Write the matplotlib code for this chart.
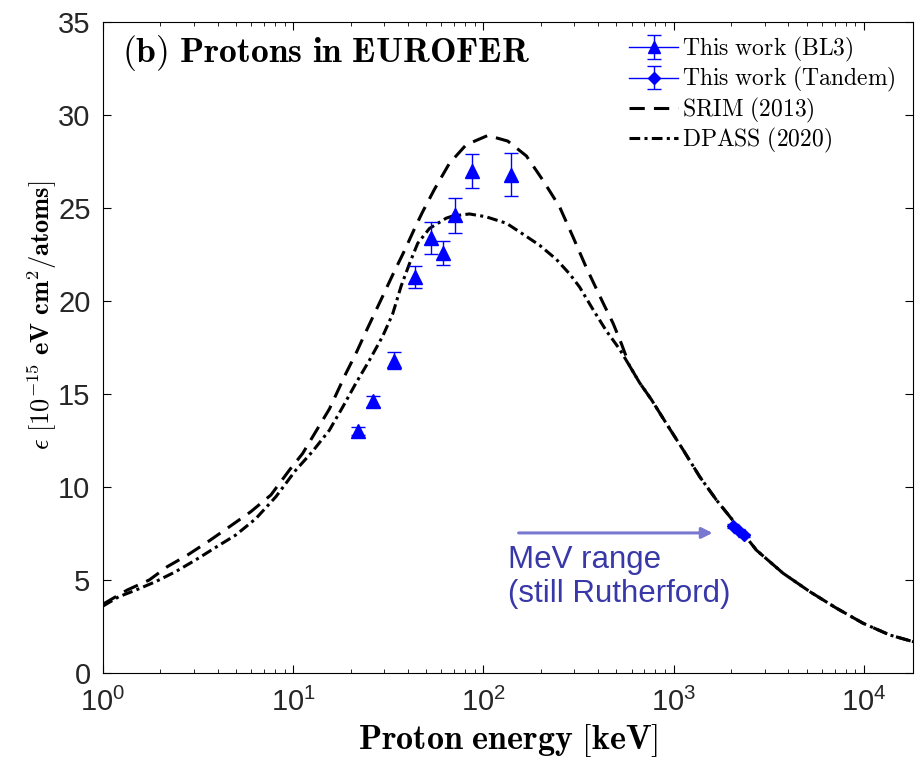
import numpy as np
import matplotlib
matplotlib.use("Agg")
import matplotlib.pyplot as plt
from matplotlib.ticker import LogLocator, NullFormatter, MultipleLocator

plt.rcParams['font.family'] = 'Liberation Sans'

# Measured points (BL3)
bl3_energy = [22.0, 26.4, 34.0, 43.9, 53.2, 61.6, 71.2, 87.5, 139.0]
bl3_eps = [13.0, 14.6, 16.8, 21.3, 23.4, 22.6, 24.6, 27.0, 26.8]
bl3_err = [0.2, 0.3, 0.45, 0.6, 0.85, 0.65, 0.95, 0.9, 1.15]

# Measured points (Tandem)
tandem_energy = [2050.0, 2200.0, 2350.0]
tandem_eps = [7.9, 7.65, 7.4]
tandem_err = [0.1, 0.1, 0.1]

# SRIM (2013) curve
srim_energy = [1.0, 1.34, 1.75, 2.18, 2.78, 3.61, 4.6, 5.98, 7.63, 9.53, 11.2,
               15.5, 18.9, 21.4, 24.1, 29.5, 33.3, 38.4, 43.9, 47.9, 55.2,
               66.2, 81.1, 105.4, 134, 168, 205, 251, 295, 347, 425, 480, 531,
               587, 662, 763, 916, 1120, 1370, 1677, 2138, 2723, 3760, 5197,
               7181, 9910, 13700, 18200]
srim_eps = [3.7, 4.46, 5.0, 5.72, 6.34, 7.1, 7.85, 8.67, 9.57, 10.9, 11.8,
            14.2, 16.1, 17.2, 18.35, 20.25, 21.4, 22.7, 24.0, 24.8, 26.0,
            27.4, 28.4, 28.9, 28.6, 27.8, 26.5, 25.07, 23.46, 21.8, 19.9, 18.8,
            17.7, 16.5, 15.6, 14.7, 13.4, 12.0, 10.55, 9.3, 7.96, 6.6, 5.36,
            4.37, 3.48, 2.67, 2.04, 1.68]

# DPASS (2020) curve
dpass_energy = [1.0, 1.21, 1.49, 1.89, 2.41, 3.07, 3.92, 4.99, 6.36, 8.11,
                10.3, 12.6, 15.5, 18.2, 21.4, 25.1, 29.5, 33.3, 36.9, 40.8,
                45.1, 52, 63.6, 68.9, 84.4, 103, 132, 161, 197, 241, 284, 320,
                376, 442, 520, 587, 662, 763, 916, 1120, 1370, 1677, 2138,
                2723, 3760, 5197, 7181, 9910, 13700, 18200]
dpass_eps = [3.6, 4.1, 4.46, 4.91, 5.45, 6.08, 6.76, 7.42, 8.3, 9.48,
             10.9, 11.9, 13.06, 14.3, 15.6, 16.8, 18.1, 19.3, 20.8, 22.0,
             23.1, 23.9, 24.45, 24.57, 24.68, 24.53, 24.18, 23.6, 23.0, 22.25,
             21.45, 20.75, 19.55, 18.4, 17.4, 16.5, 15.6, 14.7, 13.4, 12.0,
             10.55, 9.3, 7.96, 6.6, 5.36, 4.37, 3.48, 2.67, 2.04, 1.68]

fig = plt.figure(figsize=(9.16, 7.59), dpi=100)
ax = fig.add_axes([103 / 916, 1 - 673 / 759, 810 / 916, 651 / 759])

srim_dash = (5, 3)
dpass_dash = (3.5, 1.4, 1.0, 1.4)
ax.plot(srim_energy, srim_eps, color='black', lw=2.2, dashes=srim_dash)
ax.plot(dpass_energy, dpass_eps, color='black', lw=2.2, dashes=dpass_dash)

ax.errorbar(bl3_energy, bl3_eps, yerr=bl3_err, fmt='^', color='#0000ff',
            ms=10, elinewidth=1.0, capsize=5, capthick=1.0, zorder=5)
ax.errorbar(tandem_energy, tandem_eps, yerr=tandem_err, fmt='D', color='#0000ff',
            ms=6.5, elinewidth=1.0, capsize=4, capthick=1.0, zorder=5)

# legend proxies
h1 = ax.errorbar([np.nan], [np.nan], yerr=[1], fmt='-^', color='#0000ff',
                 ms=9, lw=1.0, capsize=5)
h2 = ax.errorbar([np.nan], [np.nan], yerr=[1], fmt='-D', color='#0000ff',
                 ms=6, lw=1.0, capsize=5)
h3, = ax.plot([], [], color='black', lw=2.2, dashes=srim_dash)
h4, = ax.plot([], [], color='black', lw=2.2, dashes=dpass_dash)
leg = ax.legend([h1, h2, h3, h4],
                [r'$\mathrm{This\ work\ (BL3)}$', r'$\mathrm{This\ work\ (Tandem)}$',
                 r'$\mathrm{SRIM\ (2013)}$', r'$\mathrm{DPASS\ (2020)}$'],
                loc='upper left', bbox_to_anchor=(0.633, 1.0), frameon=False,
                fontsize=17, handlelength=2.1, handletextpad=0.15,
                labelspacing=0.05, borderaxespad=0.15)
for t in leg.get_texts():
    t.set_math_fontfamily('cm')

ax.text(0.023, 0.952, r'$\mathbf{(b)\ Protons\ in\ EUROFER}$', transform=ax.transAxes,
        fontsize=25.5, va='center', ha='left', math_fontfamily='cm')

ax.annotate('', xy=(1600, 7.53), xytext=(153, 7.53),
            arrowprops=dict(arrowstyle='-|>', color='#7878d0', lw=2.2,
                            mutation_scale=16, shrinkA=0, shrinkB=0))
ax.text(135, 5.16, 'MeV range\n(still Rutherford)', color='#3838a8',
        fontsize=22.5, ha='left', va='center', linespacing=1.2)

ax.set_xscale('log')
ax.set_xlim(1, 1.81e4)
ax.set_ylim(0, 35)
ax.yaxis.set_major_locator(MultipleLocator(5))
ax.xaxis.set_major_locator(LogLocator(base=10, numticks=10))
ax.xaxis.set_minor_locator(LogLocator(base=10, subs=np.arange(2, 10), numticks=10))
ax.xaxis.set_minor_formatter(NullFormatter())
ax.tick_params(which='both', direction='in', top=True, right=True, labelsize=21,
               labelcolor='#262626')
ax.tick_params(which='major', length=6, width=0.8)
ax.tick_params(which='minor', length=3, width=0.6)
ax.tick_params(axis='x', pad=11)
ax.tick_params(axis='y', pad=9)
for s in ax.spines.values():
    s.set_linewidth(0.8)

ax.set_xlabel(r'$\mathbf{Proton\ energy\ [keV]}$', fontsize=24.5,
              math_fontfamily='cm', labelpad=3)
ax.set_ylabel(r'$\epsilon\ \mathbf{[10^{-15}\ eV\ cm^{2}/atoms]}$', fontsize=19,
              math_fontfamily='cm')
ax.yaxis.set_label_coords(-0.054, 0.55)

fig.savefig('out.png', dpi=100)
